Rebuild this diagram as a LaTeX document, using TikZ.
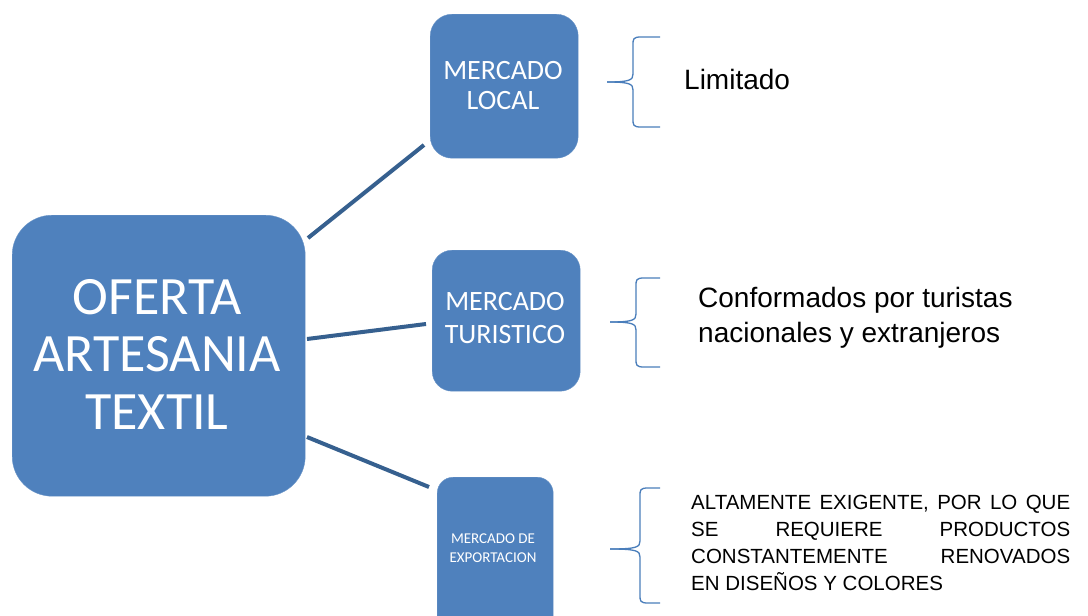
\documentclass[tikz,border=0pt]{standalone}
\usepackage{fontspec}
\setmainfont{Liberation Sans}
\newfontfamily\boxfont{Carlito}
\definecolor{boxblue}{HTML}{4F81BD}
\definecolor{linkblue}{HTML}{36608F}
\definecolor{braceblue}{HTML}{4A7EBB}
\begin{document}
\begin{tikzpicture}[x=1pt,y=-1pt,
  bx/.style={draw=boxblue!85!white,fill=boxblue,rounded corners=#1,inner sep=0pt},
  lbl/.style={text=white,align=center,inner sep=0pt},
  link/.style={draw=linkblue,line width=4pt},
  brc/.style={draw=braceblue,line width=1.3pt},
  small/.style={anchor=base west,inner sep=0pt,font=\fontsize{20.5}{24}\selectfont}]
\useasboundingbox (0,0) rectangle (1088,616);
\clip (0,0) rectangle (1088,616);
\fill[white] (0,0) rectangle (1088,616);
% boxes
\node[bx=40pt,minimum width=293pt,minimum height=281pt,anchor=north west] (main) at (12,215) {};
\node[lbl,font=\boxfont\fontsize{54}{57.5}\selectfont] (maint) at (157,354) {OFERTA\\ARTESANIA\\TEXTIL};
\node[bx=22pt,minimum width=148pt,minimum height=144pt,anchor=north west] (loc) at (430,14) {};
\node[lbl,font=\boxfont\fontsize{28}{30}\selectfont] (loct) at (503,86) {MERCADO\\LOCAL};
\node[bx=20pt,minimum width=148pt,minimum height=141pt,anchor=north west] (tur) at (432,250) {};
\node[lbl,font=\boxfont\fontsize{28}{33}\selectfont] (turt) at (505,318) {MERCADO\\TURISTICO};
\node[bx=16pt,minimum width=116pt,minimum height=160pt,anchor=north west] (exp) at (437,477) {};
\node[lbl,font=\boxfont\fontsize{15}{19}\selectfont] (expt) at (493,548) {MERCADO DE\\EXPORTACION};
% connectors
\coordinate (a1) at (308,238); \coordinate (b1) at (424,145);
\coordinate (a2) at (307,339); \coordinate (b2) at (426,324);
\coordinate (a3) at (307,437); \coordinate (b3) at (429,487);
\draw[link] (a1) -- (b1);
\draw[link] (a2) -- (b2);
\draw[link] (a3) -- (b3);
% braces
\coordinate (t1) at (660,37); \coordinate (m1) at (607,82); \coordinate (u1) at (660,127);
\draw[brc] (t1) -- (641,37) .. controls (633,37) and (633,39) .. (633,45) -- (633,74) .. controls (633,80) and (630,82) .. (m1);
\draw[brc] (m1) .. controls (630,82) and (633,84) .. (633,90) -- (633,119) .. controls (633,125) and (633,127) .. (641,127) -- (u1);
\coordinate (t2) at (660,278); \coordinate (m2) at (610,322); \coordinate (u2) at (660,367);
\draw[brc] (t2) -- (644,278) .. controls (636,278) and (636,280) .. (636,286) -- (636,314) .. controls (636,320) and (633,322) .. (m2);
\draw[brc] (m2) .. controls (633,322) and (636,324) .. (636,330) -- (636,359) .. controls (636,365) and (636,367) .. (644,367) -- (u2);
\coordinate (t3) at (660,488); \coordinate (m3) at (610,549); \coordinate (u3) at (660,603);
\draw[brc] (t3) -- (648,488) .. controls (640,488) and (640,490) .. (640,496) -- (640,541) .. controls (640,547) and (637,549) .. (m3);
\draw[brc] (m3) .. controls (637,549) and (640,551) .. (640,557) -- (640,595) .. controls (640,601) and (640,603) .. (648,603) -- (u3);
% texts
\node[anchor=base west,font=\fontsize{28}{32}\selectfont,inner sep=0pt] (l1) at (684,89) {Limitado};
\node[anchor=base west,font=\fontsize{28}{35}\selectfont,inner sep=0pt] (l2a) at (698,307) {Conformados por turistas};
\node[anchor=base west,font=\fontsize{28}{35}\selectfont,inner sep=0pt] (l2b) at (698,342) {nacionales y extranjeros};
\node[small] (l3a) at (691,509.5) {\makebox[379pt][s]{ALTAMENTE EXIGENTE, POR LO QUE}};
\node[small] (l3b) at (691,536.5) {\makebox[379pt][s]{SE REQUIERE PRODUCTOS}};
\node[small] (l3c) at (691,563.3) {\makebox[379pt][s]{CONSTANTEMENTE RENOVADOS}};
\node[small] (l3d) at (691,590) {EN DISEÑOS Y COLORES};
\end{tikzpicture}
\end{document}
